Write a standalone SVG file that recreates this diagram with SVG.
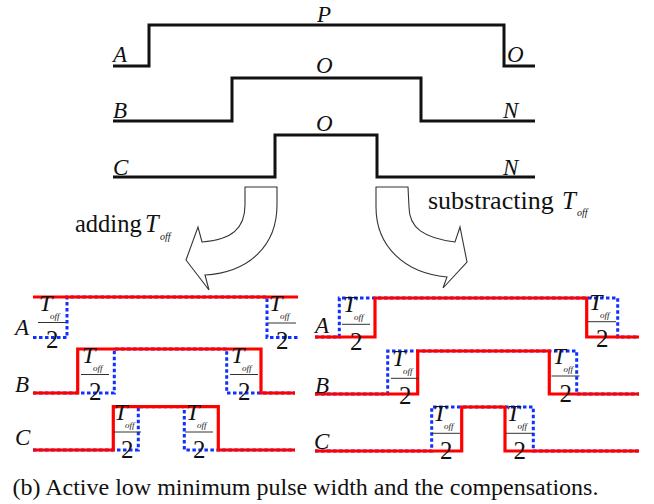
<svg xmlns="http://www.w3.org/2000/svg" width="654" height="504" viewBox="0 0 654 504" font-family="'Liberation Serif', 'DejaVu Serif', serif">
<style>
text{font-family:'Liberation Serif','DejaVu Serif',serif;fill:#111}
.it{font-style:italic}
.lbl{font-size:23px;font-style:italic}
.blk{fill:none;stroke:#111;stroke-width:3}
.red{fill:none;stroke:#ff0000;stroke-width:3.2}
.blu{fill:none;stroke:#1030ff;stroke-width:3;stroke-dasharray:3.5 2.5}
.arr{fill:#fff;stroke:#333;stroke-width:1.1}
.bar{stroke:#333;stroke-width:1}
.fT{font-size:24px;font-style:italic}
.fs{font-size:9px;font-style:italic}
.f2{font-size:25px}
</style>
<defs>
<g id="frac">
<line class="bar" x1="0" y1="0" x2="28" y2="0"/>
<text class="fT" x="1" y="-12">T</text>
<text class="fs" x="12" y="-4">off</text>
<text class="f2" x="8" y="25.5">2</text>
</g>
</defs>
<rect width="654" height="504" fill="#fff"/>

<g id="top-waveforms">
<g id="wave-A">
<path class="blk" d="M113,66 H149 V25 H504 V66 H535"/>
<text class="lbl" x="113" y="62">A</text>
<text class="lbl" x="317" y="22">P</text>
<text class="lbl" x="507" y="62">O</text>
</g>
<g id="wave-B">
<path class="blk" d="M113,121 H232 V78 H421 V121 H535"/>
<text class="lbl" x="113" y="118">B</text>
<text class="lbl" x="316" y="73">O</text>
<text class="lbl" x="503" y="118">N</text>
</g>
<g id="wave-C">
<path class="blk" d="M113,177 H275 V135 H377 V177 H535"/>
<text class="lbl" x="113" y="175">C</text>
<text class="lbl" x="316" y="131">O</text>
<text class="lbl" x="503" y="175">N</text>
</g>
</g>

<g id="connectors">
<path class="arr" d="M245,187 L277,187 L277,205 C277,245 250,272 205,275 L209,290 L186,260 L198,227 L202,242 C232,240 245,228 245,205 Z"/>
<path class="arr" d="M408,187 L376,187 L376,207 C376,246 404,273 447,277 L443,288 L467,262 L460,227 L455,242 C424,238 409,228 409,207 Z"/>
</g>

<g id="label-adding">
<text x="75" y="232" font-size="24.5">adding</text>
<text class="it" x="145" y="232" font-size="24.5">T</text>
<text class="it" x="160" y="240" font-size="10">off</text>
</g>
<g id="label-substracting">
<text x="428" y="208.5" font-size="26">substracting</text>
<text class="it" x="562" y="208.5" font-size="25">T</text>
<text class="it" x="577" y="216" font-size="10">off</text>
</g>

<g id="left-panel">
<g id="left-A">
<path class="blu" d="M33,337.5 H67 V297 H267 V337.5 H298"/>
<path class="red" d="M33,297 H298"/>
<text class="lbl" x="15" y="335">A</text>
<use href="#frac" x="38" y="322.5"/>
<use href="#frac" x="268" y="323"/>
</g>
<g id="left-B">
<path class="blu" d="M33,393 H114.3 V349 H226.7 V393 H295"/>
<path class="red" d="M33,393 H77.7 V349 H261 V393 H295"/>
<text class="lbl" x="15" y="392">B</text>
<use href="#frac" x="81" y="374.5"/>
<use href="#frac" x="230" y="374.5"/>
</g>
<g id="left-C">
<path class="blu" d="M33,450 H138.3 V406.7 H184.3 V450 H295"/>
<path class="red" d="M33,450 H113.3 V406.7 H218.3 V450 H295"/>
<text class="lbl" x="15" y="445">C</text>
<use href="#frac" x="113" y="432"/>
<use href="#frac" x="185" y="432"/>
</g>
</g>

<g id="right-panel">
<g id="right-A">
<path class="blu" d="M315,337 H339.3 V298 H617.7 V337 H639"/>
<path class="red" d="M315,337 H375 V298 H586.7 V337 H639"/>
<text class="lbl" x="315" y="333">A</text>
<use href="#frac" x="342" y="324.3"/>
<use href="#frac" x="588" y="321.7"/>
</g>
<g id="right-B">
<path class="blu" d="M315,394 H387.7 V351 H576.7 V394 H639"/>
<path class="red" d="M315,394 H417.7 V351 H549.3 V394 H639"/>
<text class="lbl" x="315" y="393">B</text>
<use href="#frac" x="391" y="378.3"/>
<use href="#frac" x="551.5" y="376"/>
</g>
<g id="right-C">
<path class="blu" d="M315,451 H431.7 V407 H533.3 V451 H639"/>
<path class="red" d="M315,451 H461.7 V407 H505 V451 H639"/>
<text class="lbl" x="314" y="449">C</text>
<use href="#frac" x="432" y="433.3"/>
<use href="#frac" x="505.5" y="433.3"/>
</g>
</g>

<g id="caption">
<text x="12.5" y="494.7" font-size="24">(b) Active low minimum pulse width and the compensations.</text>
</g>
</svg>
